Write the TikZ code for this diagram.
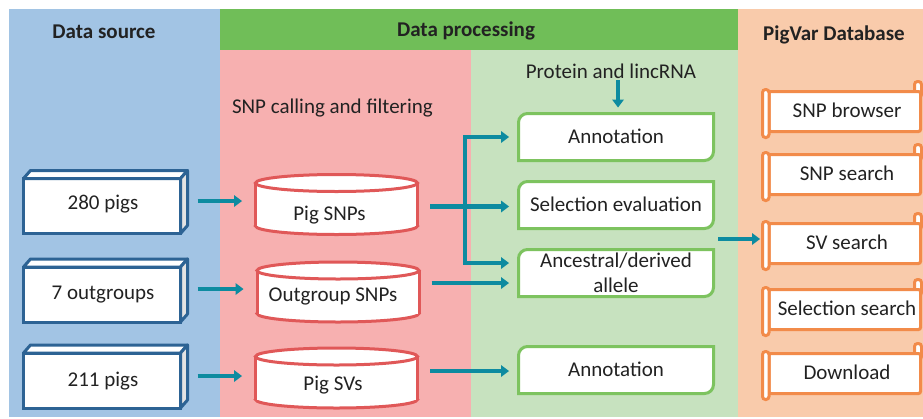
\documentclass[tikz,border=0pt]{standalone}
\usepackage{fontspec}
\setmainfont{Carlito}
\usetikzlibrary{arrows.meta,calc}
\definecolor{bluebg}{HTML}{A2C4E4}
\definecolor{greenhead}{HTML}{70BE58}
\definecolor{pinkbg}{HTML}{F7B0B0}
\definecolor{lgreen}{HTML}{C7E2BF}
\definecolor{peach}{HTML}{F9CBAB}
\definecolor{boxblue}{HTML}{2D6394}
\definecolor{cylred}{HTML}{E05858}
\definecolor{gborder}{HTML}{7DC35F}
\definecolor{sorange}{HTML}{F28B4A}
\definecolor{teal1}{HTML}{0D8BA0}
\definecolor{textc}{HTML}{222222}

\newcommand\srcbox[5]{%
  \node[srcb] (#1) at (#2,-#3) {};
  \draw[boxface, fill=white] (#1.north west) -- ++(7,8) -- ([shift={(7,8)}]#1.north east) -- (#1.north east) -- cycle;
  \draw[boxface, fill=gray!22] (#1.north east) -- ++(7,8) -- ([shift={(7,8)}]#1.south east) -- (#1.south east) -- cycle;
  \node[oneline] (#1t) at (#2+1,-#3+#5) {#4};
}
\newcommand\cylbox[6]{%
  \begin{scope}[shift={(#2,-#3)}]
    \draw[cylline, fill=white] (0,-21.5) ellipse[x radius=81pt, y radius=8.5pt];
    \fill[white] (-81,21.5) rectangle (81,-21.5);
    \draw[cylline] (-81,21.5) -- (-81,-21.5) (81,21.5) -- (81,-21.5);
    \draw[cylline, fill=white] (0,21.5) ellipse[x radius=81pt, y radius=8.5pt];
  \end{scope}
  \node[minimum width=165pt, minimum height=60pt] (#1) at (#2,-#3) {};
  \node[oneline] (#1t) at (#2+#6,-#3-#5) {#4};
}
\newcommand\gbox[5][oneline]{%
  \begin{scope}[shift={(#3,-#4)}]
    \draw[gline] (-97.5,-23.5) -- (-97.5,14.5) arc[start angle=180,end angle=90,radius=9pt]
      -- (97.5,23.5) -- (97.5,-14.5) arc[start angle=0,end angle=-90,radius=9pt] -- cycle;
  \end{scope}
  \node[minimum width=195pt, minimum height=47pt, #1] (#2) at (#3,-#4) {#5};
}
\newcommand\scrollbox[3]{%
  \begin{scope}[shift={(0,-#2)}]
    \draw[sline, rounded corners=3pt] (914.5,14) rectangle (921.5,30);
    \draw[sline, rounded corners=2pt] (769,20) rectangle (920.5,-20);
    \draw[sline, rounded corners=3pt] (762.5,22) rectangle (769,-26);
  \end{scope}
  \node[minimum width=151.5pt, minimum height=40pt] (#1) at (844.75,-#2) {};
  \node[oneline] (#1t) at (847,-#2+1) {#3};
}

\begin{document}
\begin{tikzpicture}[x=1pt,y=1pt,
  every node/.style={font=\fontsize{21}{25}\selectfont, text=textc, inner sep=0pt, outer sep=0pt},
  oneline/.style={text height=13.5pt,text depth=0pt},
  srcb/.style={draw=boxblue, line width=3pt, fill=white, minimum width=157pt, minimum height=55pt},
  boxface/.style={draw=boxblue, line width=3pt, line join=round},
  cylline/.style={draw=cylred, line width=3pt},
  gline/.style={draw=gborder, line width=3pt, fill=white},
  sline/.style={draw=sorange, line width=3pt, fill=white},
  arr/.style={draw=teal1, line width=4.3pt, -{Triangle[length=8pt,width=12pt,line width=0pt]}},
  arrb/.style={draw=teal1, line width=4.3pt, {Triangle[length=8pt,width=12pt,line width=0pt]}-{Triangle[length=8pt,width=12pt,line width=0pt]}},
  hdr/.style={font=\fontsize{21}{25}\selectfont\bfseries, anchor=base},
]
\useasboundingbox (0,0) rectangle (923,-418);
\fill[white] (0,0) rectangle (923,-418);
% panels
\fill[bluebg] (9,-9) rectangle (220,-417);
\fill[greenhead] (220,-9) rectangle (738,-50);
\fill[pinkbg] (220,-50) rectangle (471,-417);
\fill[lgreen] (471,-50) rectangle (738,-417);
\fill[peach] (738,-9) rectangle (923,-417);

% headers
\node[hdr] (h1) at (104,-38) {Data source};
\node[hdr] (h2) at (466,-36.5) {Data processing};
\node[hdr] (h3) at (834,-40) {PigVar Database};
\node[anchor=base west] (snpcall) at (232,-113.5) {SNP calling and filtering};
\node[anchor=base] (prot) at (611,-78.5) {Protein and lincRNA};

% data source boxes
\srcbox{src1}{102}{206}{280 pigs}{3}
\srcbox{src2}{102}{294.5}{7 outgroups}{1.5}
\srcbox{src3}{102}{380.5}{211 pigs}{1}

% cylinders
\cylbox{cyl1}{336.5}{204.5}{Pig SNPs}{9.5}{-7}
\cylbox{cyl2}{338}{292}{Outgroup SNPs}{2.5}{-5}
\cylbox{cyl3}{336.5}{378}{Pig SVs}{5.5}{-3.5}

% processing boxes
\gbox{ann1}{616}{137}{Annotation}
\gbox{sel}{616}{205}{Selection evaluation}
\gbox[align=center]{anc}{616}{273}{Ancestral/derived\\allele}
\gbox{ann2}{616}{370}{Annotation}

% database scrolls
\scrollbox{snpb}{111.5}{SNP browser}
\scrollbox{snps}{174.5}{SNP search}
\scrollbox{sv}{243.5}{SV search}
\scrollbox{sels}{309.5}{Selection search}
\scrollbox{down}{373.5}{Download}

% connectors
\draw[arr, shorten >=12pt] ([xshift=17pt,yshift=5pt]src1.east) -- ([yshift=5pt]src1.east -| cyl1.west);
\draw[arr, shorten >=12pt] ([xshift=17pt,yshift=5.5pt]src2.east) -- ([yshift=5.5pt]src2.east -| cyl2.west);
\draw[arr, shorten >=12pt] ([xshift=17pt,yshift=4.5pt]src3.east) -- ([yshift=4.5pt]src3.east -| cyl3.west);

\coordinate (ann1in) at ([xshift=-9.5pt]ann1.west);
\coordinate (selin) at ([xshift=-9.5pt,yshift=-1.5pt]sel.west);
\coordinate (ancA) at ([xshift=-9.5pt,yshift=10pt]anc.west);
\coordinate (ancB) at ([xshift=-9.5pt,yshift=-10pt]anc.west);
\coordinate (ann2in) at ([xshift=-9.5pt,yshift=-1pt]ann2.west);
\coordinate (jx) at (465,0);

\draw[arr] (cyl1.east |- selin) ++(11pt,0) -- (selin);
\draw[arrb, line join=miter] (ann1in) -- (jx |- ann1in) -- (jx |- ancA) -- (ancA);
\draw[arr] (cyl2.east |- ancB) ++(11pt,0) -- (ancB);
\draw[arr] (cyl3.east |- ann2in) ++(11pt,0) -- (ann2in);

\draw[arr, shorten >=6pt] ([xshift=7pt,yshift=-1.5pt]prot.south) -- ([xshift=7pt]prot.south |- ann1.north);

\coordinate (dbout) at ($(sel.south east)!0.5!(anc.north east)$);
\path (sv.west |- dbout) ++(-9pt,0) coordinate (svin);
\draw[arr] (dbout) ++(4.5pt,0) -- (svin);
\end{tikzpicture}
\end{document}
